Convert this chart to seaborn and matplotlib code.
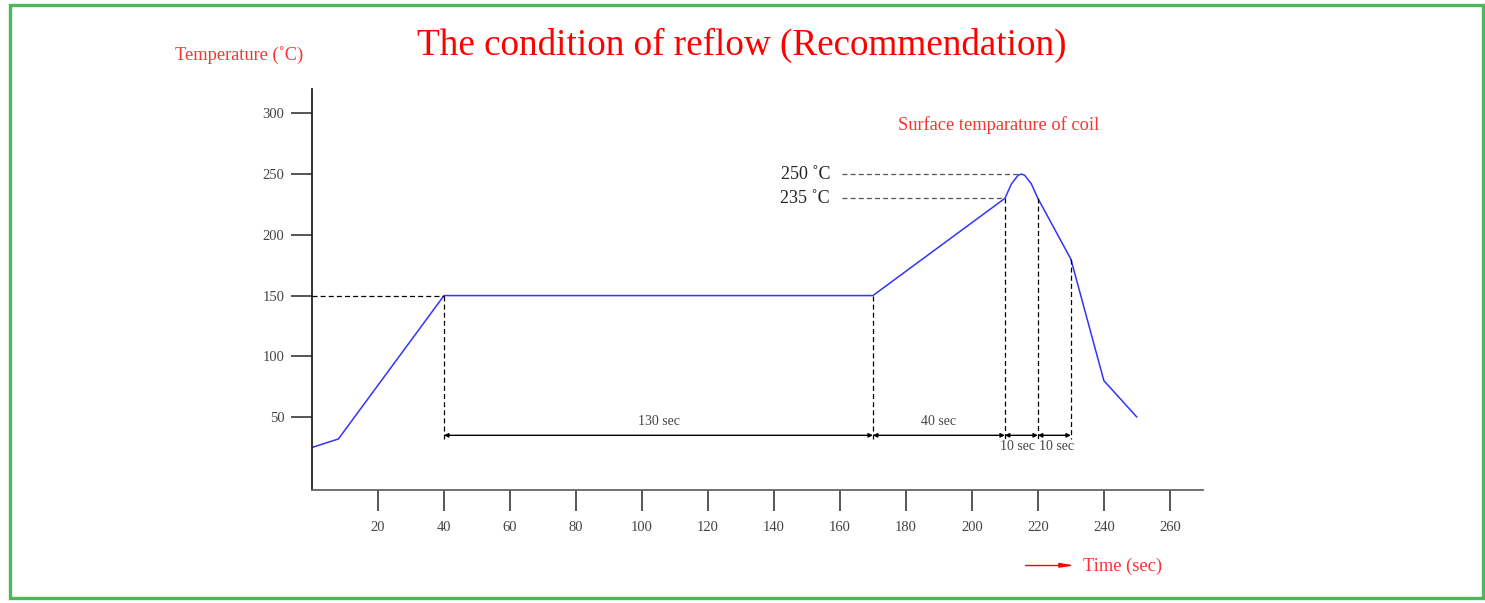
#reflow profile chart
import numpy as np
import pandas as pd
import matplotlib.pyplot as plt
import seaborn as sns
from matplotlib.patches import Rectangle

#data section
time_sec = [0, 8, 40, 170, 210, 212, 214, 215, 216, 218, 220, 230, 240, 250]
temp_c = [25, 32, 150, 150, 230, 242, 249, 250, 249, 242, 230, 180, 80, 50]

x_ticks = [20, 40, 60, 80, 100, 120, 140, 160, 180, 200, 220, 240, 260]
y_ticks = [50, 100, 150, 200, 250, 300]

# dimension marks: segment boundaries and labels
seg_edges = [40, 170, 210, 220, 230]
seg_labels = ['130 sec', '40 sec', '10 sec', '10 sec']
edge_temps = [150, 150, 230, 230, 180]

peak_levels = [250, 230]
peak_times = [215, 210]
peak_labels = ['250 ˚C', '235 ˚C']

df = pd.DataFrame({'time': time_sec, 'temp': temp_c})

sns.set_style('white')
plt.rcParams['font.family'] = ['Liberation Serif', 'DejaVu Serif']

fig = plt.figure(figsize=(14.85, 6.03), dpi=100)
ax = fig.add_axes([0.2101, 0.1874, 0.5999, 0.665])

sns.lineplot(data=df, x='time', y='temp', color='#3333ff', linewidth=1.1, ax=ax)

ax.set_xlim(0, 270)
ax.set_ylim(-10, 320)
ax.set_xticks(x_ticks)
ax.set_yticks(y_ticks)
ax.set_xlabel('')
ax.set_ylabel('')

for s in ['top', 'right']:
    ax.spines[s].set_visible(False)
ax.spines['left'].set_color('#222222')
ax.spines['bottom'].set_color('#666666')
ax.spines['left'].set_linewidth(1.3)
ax.spines['bottom'].set_linewidth(1.3)
ax.tick_params(axis='both', direction='out', length=15, width=1.4, color='#555555',
               labelsize=10.5, labelcolor='#444444', bottom=True, left=True)
ax.tick_params(axis='x', pad=7)
ax.tick_params(axis='y', pad=5)

dash = dict(color='black', linestyle=(0, (4, 2.5)), linewidth=0.9)

# 150 preheat level
ax.plot([0, 40], [150, 150], **dash)

# vertical markers
bar_y = 35
for t, v in zip(seg_edges, edge_temps):
    ax.plot([t, t], [v, bar_y - 3], **dash)

# peak levels
for lvl, t, lab in zip(peak_levels, peak_times, peak_labels):
    ax.plot([160.5, t], [lvl, lvl], color='#555555', linestyle=(0, (4, 2.5)), linewidth=0.9)
    ax.text(157, lvl, lab, ha='right', va='center', fontsize=13, color='#222222')

# dimension arrows
label_shift = [0, 0, -1.2, 0.7]
for i, lab in enumerate(seg_labels):
    a, b = seg_edges[i], seg_edges[i + 1]
    ax.annotate('', xy=(a, bar_y), xytext=(b, bar_y),
                arrowprops=dict(arrowstyle='<|-|>', color='black', lw=1.0,
                                mutation_scale=6, shrinkA=0, shrinkB=0))
    xc = (a + b) / 2 + label_shift[i]
    if i < 2:
        ax.text(xc, bar_y + 6, lab, ha='center', va='bottom', fontsize=10, color='#444444')
    else:
        ax.text(xc, bar_y - 4, lab, ha='center', va='top', fontsize=10, color='#444444')

ax.text(208, 290, 'Surface temparature of coil', ha='center', va='center', fontsize=13.2, color='#ff3030')

# figure texts
fig.text(0.4997, 0.925, 'The condition of reflow (Recommendation)', ha='center', va='center',
         fontsize=26.7, color='#ff0000')
fig.text(0.161, 0.909, 'Temperature (˚C)', ha='center', va='center', fontsize=13.2, color='#ff3030')
fig.text(0.729, 0.061, 'Time (sec)', ha='left', va='center', fontsize=13.3, color='#ff3030')
fig.add_artist(plt.Line2D([0.690, 0.7205], [0.0625, 0.0625], color='#ff0000', lw=1.0))
fig.patches.append(plt.Polygon([[0.713, 0.0655], [0.7205, 0.0625], [0.713, 0.0595]],
                               closed=True, color='#ff0000', transform=fig.transFigure, figure=fig))

# green border
fig.patches.append(Rectangle((0.0067, 0.0083), 0.992, 0.9834, fill=False, edgecolor='#4cb85a',
                             linewidth=2.4, transform=fig.transFigure, figure=fig))

fig.savefig('out.png', dpi=100)
